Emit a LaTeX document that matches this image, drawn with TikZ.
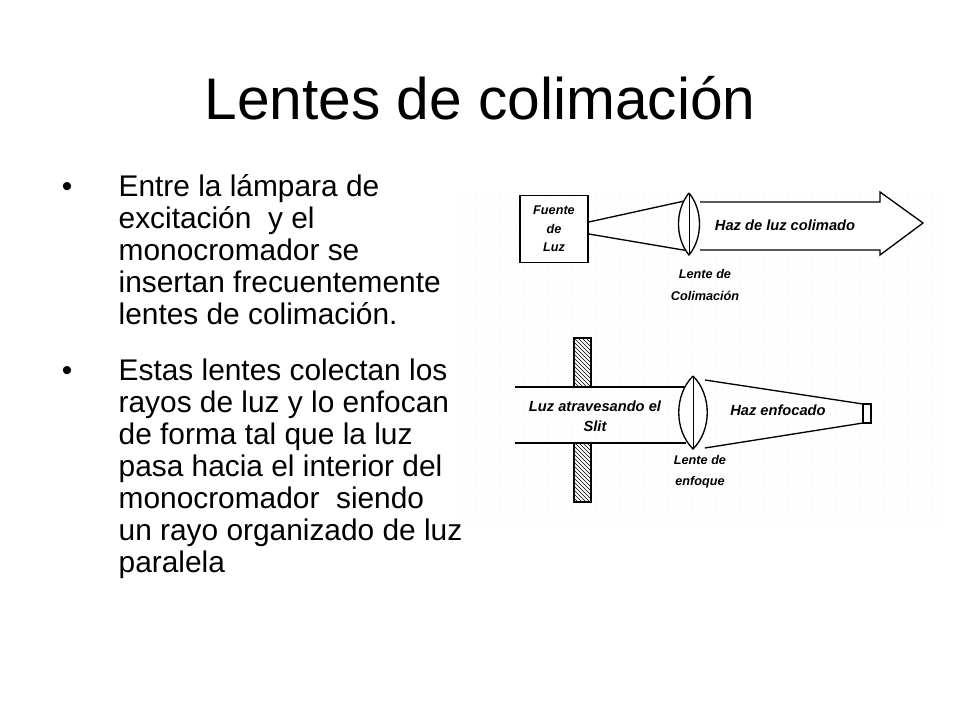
\documentclass[tikz,border=0pt]{standalone}
\usepackage{fontspec}
\setmainfont{Liberation Sans}
\usetikzlibrary{patterns}
\tikzset{lbl/.style={font=\bfseries\itshape\fontsize{9.5}{11}\selectfont, align=center, inner sep=0pt}}
\tikzset{biglbl/.style={lbl, font=\bfseries\itshape\fontsize{11}{12}\selectfont}}
\tikzset{bullettext/.style={anchor=north west, align=left, inner sep=0pt, font=\fontsize{22.4}{24}\selectfont}}
\tikzset{lens/.style={draw, line width=1pt, fill=white}}
\begin{document}
\begin{tikzpicture}[x=0.75pt, y=-0.75pt, line width=1pt]
    \useasboundingbox (0,0) rectangle (960,720);
    \node [font=\fontsize{44}{48}\selectfont] (title) at (480,98) {Lentes de colimación};

    \node [font=\fontsize{22.4}{24}\selectfont] (b1) at (67,190) {•};
    \node [bullettext] (t1) at (118,174) {Entre la lámpara de\\excitación \ y el\\monocromador se\\insertan frecuentemente\\lentes de colimación.};
    \node [font=\fontsize{22.4}{24}\selectfont] (b2) at (67,374) {•};
    \node [bullettext] (t2) at (118,358) {Estas lentes colectan los\\rayos de luz y lo enfocan\\de forma tal que la luz\\pasa hacia el interior del\\monocromador \ siendo\\un rayo organizado de luz\\paralela};

    % dotted background
    \foreach \i in {0,...,80} {
      \foreach \j in {0,...,55} {
        \fill [gray!45] (458+6*\i, 192+6*\j) circle (0.4);
      }
    }

    % top: collimation
    \node [draw, line width=1.2pt, fill=white, minimum width=51pt, minimum height=50pt, lbl] (src) at (554,229) {Fuente\\[3pt]de\\[3pt]Luz};
    \coordinate (lens1top) at (689,200);
    \coordinate (lens1bot) at (689,251);
    \draw (src.east |- 0,222) -- (lens1top);
    \draw (src.east |- 0,234) -- (lens1bot);
    \draw [fill=white] (700,202) -- (880,202) -- (880,192) -- (923,223) -- (880,255) -- (880,250) -- (700,250);
    \draw [lens] (689,193) .. controls (675,210) and (675,238) .. (689,255) .. controls (703,238) and (703,210) .. (689,193);
    \draw [line width=0.6pt] (689,194) -- (689,254);
    \node [biglbl] (beam1) at (785,225) {Haz de luz colimado};
    \node [lbl] (cap1) at (705,285) {Lente de\\[5pt]Colimación};

    % bottom: focusing
    \draw [pattern=north west lines] (574,338) rectangle (591,387);
    \draw [pattern=north west lines] (574,443) rectangle (591,502);
    \coordinate (inTop) at (515,387);
    \coordinate (inBot) at (515,443);
    \draw (inTop) -- (686,387);
    \draw (inBot) -- (686,443);
    \draw (705,380) -- (863,404) -- (863,423) -- (705,448);
    \draw (863,404) rectangle (871,423);
    \draw [lens] (693,376) .. controls (674,395) and (674,430) .. (693,449) .. controls (712,430) and (712,395) .. (693,376);
    \draw [line width=0.6pt] (693,377) -- (693,448);
    \node [biglbl] (beamin) at (595,416) {Luz atravesando el\\[3pt]Slit};
    \node [biglbl] (beam2) at (778,410) {Haz enfocado};
    \node [lbl] (cap2) at (700,472) {Lente de\\[5pt]enfoque};
\end{tikzpicture}
\end{document}
